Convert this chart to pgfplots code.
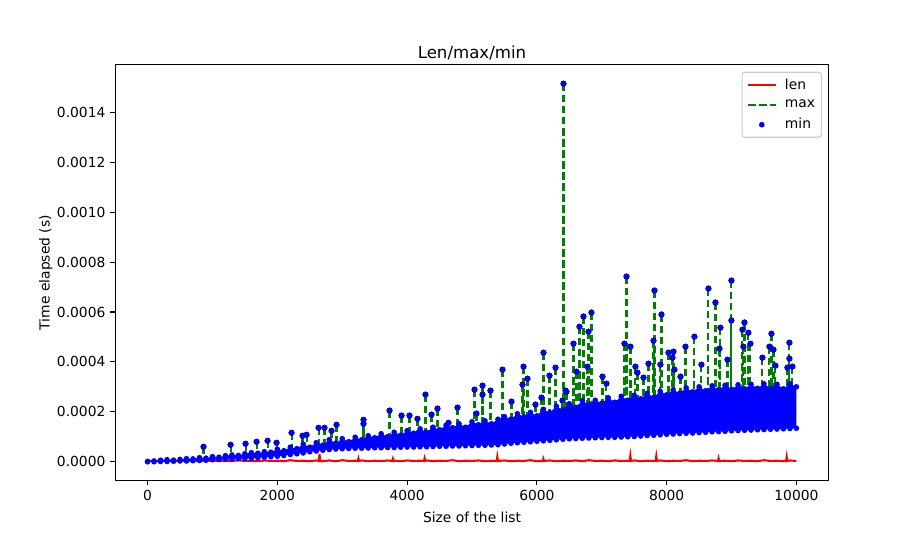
\documentclass[border=0pt]{standalone}
\usepackage{pgfplots}
\pgfplotsset{compat=1.18}
\usepackage{pgfplotstable}
\usepgfplotslibrary{fillbetween}
\usepackage{fontspec}
\setmainfont{DejaVu Sans}

\definecolor{mplred}{rgb}{1,0,0}
\definecolor{mplgreen}{rgb}{0,0.5,0}
\definecolor{mplblue}{rgb}{0,0,1}
\definecolor{legframe}{rgb}{0.8,0.8,0.8}

% dense band of the min/max timings: lower and upper edge
\pgfplotstableread{
x lo hi
0 0.000000 0.000001
100 0.000000 0.000003
200 0.000001 0.000006
300 0.000001 0.000008
400 0.000002 0.000006
500 0.000003 0.000009
600 0.000003 0.000012
700 0.000004 0.000011
800 0.000005 0.000016
900 0.000006 0.000014
1000 0.000008 0.000020
1100 0.000009 0.000018
1200 0.000010 0.000024
1300 0.000011 0.000027
1400 0.000012 0.000025
1500 0.000013 0.000032
1600 0.000014 0.000036
1700 0.000016 0.000034
1800 0.000018 0.000040
1900 0.000020 0.000038
2000 0.000022 0.000050
2100 0.000025 0.000044
2200 0.000029 0.000058
2300 0.000032 0.000052
2400 0.000035 0.000070
2500 0.000040 0.000058
2600 0.000043 0.000076
2700 0.000046 0.000066
2800 0.000049 0.000088
2900 0.000051 0.000074
3000 0.000052 0.000092
3100 0.000053 0.000080
3200 0.000054 0.000098
3300 0.000054 0.000088
3400 0.000055 0.000104
3500 0.000056 0.000096
3600 0.000056 0.000112
3700 0.000057 0.000100
3800 0.000057 0.000118
3900 0.000058 0.000106
4000 0.000059 0.000124
4100 0.000059 0.000114
4200 0.000060 0.000132
4300 0.000060 0.000118
4400 0.000061 0.000138
4500 0.000062 0.000128
4600 0.000062 0.000146
4700 0.000063 0.000136
4800 0.000063 0.000152
4900 0.000064 0.000138
5000 0.000065 0.000160
5100 0.000066 0.000148
5200 0.000066 0.000164
5300 0.000067 0.000152
5400 0.000068 0.000170
5500 0.000071 0.000180
5600 0.000074 0.000170
5700 0.000076 0.000192
5800 0.000078 0.000180
5900 0.000080 0.000198
6000 0.000082 0.000184
6100 0.000084 0.000210
6200 0.000086 0.000196
6300 0.000088 0.000222
6400 0.000090 0.000208
6500 0.000092 0.000232
6600 0.000093 0.000218
6700 0.000094 0.000244
6800 0.000095 0.000228
6900 0.000096 0.000246
7000 0.000097 0.000234
7100 0.000098 0.000256
7200 0.000098 0.000238
7300 0.000099 0.000262
7400 0.000100 0.000246
7500 0.000101 0.000266
7600 0.000103 0.000252
7700 0.000105 0.000274
7800 0.000106 0.000258
7900 0.000108 0.000282
8000 0.000110 0.000268
8100 0.000111 0.000288
8200 0.000113 0.000274
8300 0.000114 0.000296
8400 0.000115 0.000280
8500 0.000117 0.000300
8600 0.000118 0.000284
8700 0.000120 0.000304
8800 0.000121 0.000288
8900 0.000122 0.000306
9000 0.000124 0.000290
9100 0.000125 0.000308
9200 0.000126 0.000292
9300 0.000127 0.000310
9400 0.000128 0.000294
9500 0.000129 0.000312
9600 0.000130 0.000294
9700 0.000131 0.000310
9800 0.000132 0.000292
9900 0.000133 0.000312
9999 0.000134 0.000300
}\band

% outliers above the band (y) and where their spike starts (b)
\pgfplotstableread{
x y b
862 0.000060 0.000010
1279 0.000068 0.000018
1510 0.000072 0.000022
1680 0.000080 0.000025
1849 0.000084 0.000029
1988 0.000076 0.000034
2219 0.000116 0.000040
2388 0.000104 0.000048
2450 0.000108 0.000049
2635 0.000136 0.000057
2727 0.000136 0.000058
2835 0.000124 0.000065
2912 0.000148 0.000065
3328 0.000168 0.000075
3328 0.000152 0.000075
3729 0.000205 0.000080
3914 0.000185 0.000086
4037 0.000185 0.000086
4160 0.000172 0.000090
4283 0.000269 0.000090
4376 0.000189 0.000095
4468 0.000213 0.000097
4638 0.000156 0.000100
4777 0.000217 0.000103
5039 0.000289 0.000107
5069 0.000193 0.000108
5162 0.000305 0.000110
5162 0.000269 0.000110
5285 0.000285 0.000112
5470 0.000369 0.000120
5609 0.000241 0.000126
5778 0.000309 0.000130
5794 0.000381 0.000130
5855 0.000333 0.000133
5978 0.000229 0.000135
6071 0.000257 0.000140
6102 0.000437 0.000140
6194 0.000345 0.000145
6287 0.000377 0.000148
6394 0.000245 0.000152
6410 0.001515 0.000152
6441 0.000285 0.000155
6456 0.000280 0.000155
6564 0.000473 0.000160
6610 0.000361 0.000160
6656 0.000541 0.000162
6718 0.000582 0.000165
6780 0.000381 0.000165
6795 0.000521 0.000165
6841 0.000598 0.000166
7011 0.000341 0.000170
7072 0.000313 0.000170
7350 0.000473 0.000175
7381 0.000742 0.000175
7442 0.000461 0.000176
7519 0.000381 0.000178
7550 0.000357 0.000178
7643 0.000337 0.000180
7720 0.000393 0.000182
7797 0.000485 0.000184
7812 0.000686 0.000184
7904 0.000389 0.000186
7920 0.000590 0.000186
8028 0.000437 0.000190
8090 0.000417 0.000190
8105 0.000441 0.000190
8120 0.000369 0.000190
8213 0.000341 0.000192
8290 0.000461 0.000194
8428 0.000501 0.000196
8536 0.000389 0.000200
8644 0.000694 0.000202
8752 0.000638 0.000204
8814 0.000453 0.000206
8829 0.000537 0.000206
8937 0.000409 0.000208
8998 0.000726 0.000208
8998 0.000566 0.000208
9168 0.000529 0.000210
9183 0.000461 0.000210
9199 0.000558 0.000210
9260 0.000517 0.000212
9291 0.000473 0.000212
9476 0.000417 0.000214
9584 0.000461 0.000216
9615 0.000513 0.000216
9646 0.000449 0.000216
9676 0.000385 0.000216
9861 0.000377 0.000218
9892 0.000477 0.000218
9892 0.000413 0.000218
9938 0.000381 0.000218
}\spikes

% len() timings
\pgfplotstableread{
x y
0 0.000002
100 0.000004
200 0.000002
300 0.000005
400 0.000003
500 0.000002
600 0.000005
700 0.000003
800 0.000004
900 0.000002
1000 0.000005
1100 0.000003
1200 0.000004
1300 0.000002
1400 0.000006
1500 0.000003
1600 0.000004
1700 0.000002
1800 0.000005
1900 0.000003
2000 0.000004
2100 0.000002
2200 0.000006
2300 0.000003
2400 0.000004
2500 0.000002
2600 0.000005
2640 0.000003
2650 0.000030
2660 0.000003
2700 0.000002
2800 0.000005
2900 0.000002
3000 0.000006
3100 0.000003
3200 0.000004
3240 0.000003
3250 0.000013
3260 0.000003
3300 0.000005
3400 0.000002
3500 0.000004
3600 0.000002
3700 0.000005
3770 0.000003
3780 0.000012
3790 0.000003
3800 0.000004
3900 0.000002
4000 0.000005
4100 0.000003
4200 0.000004
4260 0.000003
4270 0.000014
4280 0.000003
4300 0.000005
4400 0.000002
4500 0.000004
4600 0.000003
4700 0.000006
4800 0.000002
4900 0.000004
5000 0.000003
5100 0.000005
5200 0.000002
5300 0.000004
5380 0.000003
5390 0.000020
5400 0.000003
5500 0.000005
5600 0.000002
5700 0.000004
5800 0.000003
5900 0.000006
6000 0.000002
6090 0.000003
6100 0.000012
6110 0.000003
6200 0.000005
6300 0.000002
6400 0.000004
6500 0.000003
6600 0.000005
6700 0.000002
6800 0.000006
6900 0.000003
7000 0.000004
7100 0.000002
7200 0.000005
7300 0.000003
7400 0.000004
7430 0.000003
7440 0.000024
7450 0.000003
7500 0.000005
7600 0.000002
7700 0.000004
7800 0.000003
7830 0.000003
7840 0.000022
7850 0.000003
7900 0.000005
8000 0.000002
8100 0.000004
8200 0.000003
8300 0.000006
8400 0.000002
8500 0.000004
8600 0.000003
8700 0.000005
8790 0.000003
8800 0.000014
8810 0.000003
8900 0.000004
9000 0.000002
9100 0.000005
9200 0.000003
9300 0.000004
9400 0.000002
9500 0.000006
9600 0.000003
9700 0.000004
9800 0.000002
9840 0.000003
9850 0.000020
9860 0.000003
9900 0.000005
9999 0.000003
}\lendata

\begin{document}
\begin{tikzpicture}
\begin{axis}[
    set layers,
    at={(82.89bp,42.77bp)}, anchor=south west,
    width=513.9bp, height=299.4bp, scale only axis,
    xmin=-500, xmax=10500,
    ymin=-0.0000757, ymax=0.0015907,
    xtick={0,2000,4000,6000,8000,10000},
    ytick={0,0.0002,0.0004,0.0006,0.0008,0.0010,0.0012,0.0014},
    scaled x ticks=false, scaled y ticks=false,
    xticklabel style={/pgf/number format/1000 sep={}},
    yticklabel style={/pgf/number format/.cd, fixed, fixed zerofill, precision=4},
    /pgf/number format/assume math mode=true,
    tick label style={font=\fontsize{10}{12}\selectfont},
    tick align=outside, major tick length=3.5bp,
    xtick pos=bottom, ytick pos=left,
    tick style={line width=0.8bp, black},
    axis line style={line width=0.8bp},
    xlabel={Size of the list}, ylabel={Time elapsed (s)},
    label style={font=\fontsize{10}{12}\selectfont},
    xlabel style={yshift=-1bp},
    ylabel style={yshift=-3.6bp},
    title={Len/max/min},
    title style={font=\fontsize{12}{14}\selectfont, yshift=-6bp},
    legend image code/.code={\draw[mark repeat=2,mark phase=2] plot coordinates {(0cm,0cm) (0.35cm,0cm) (0.7cm,0cm)};},
    legend style={at={(1,1)}, anchor=north east, xshift=-5bp, yshift=-5bp,
        draw=legframe, rounded corners=2bp, font=\fontsize{10}{12}\selectfont,
        inner xsep=3.5bp, inner ysep=3.5bp, row sep=4.3bp, line width=0.8bp,
        nodes={inner sep=1bp},
        /tikz/every odd column/.append style={column sep=5bp}},
    legend cell align=left,
]
\addplot[mplred, line width=1.5bp, on layer=axis background] table[x=x, y=y] {\lendata};
\addlegendentry{len}
\addlegendimage{mplgreen, line width=1.5bp, dash pattern=on 5.55bp off 2.4bp}
\addlegendentry{max}
\addplot[forget plot, only marks, mark=none, on layer=axis background,
    error bars/.cd, y dir=minus, y explicit, error mark=none,
    error bar style={line width=1.5bp, color=mplgreen, dash pattern=on 5.55bp off 2.4bp}]
    table[x=x, y=y, y error expr=\thisrow{y}-\thisrow{b}] {\spikes};
\addplot[forget plot, draw=none, name path=lo] table[x=x, y=lo] {\band};
\addplot[forget plot, draw=none, name path=hi] table[x=x, y=hi] {\band};
\addplot[forget plot, fill=mplblue, draw=none] fill between[of=lo and hi];
\addplot[only marks, mark=*, mark size=1.5bp, mplblue, mark options={line width=1bp}] table[x=x, y=y] {\spikes};
\addlegendentry{min}
\addplot[forget plot, only marks, mark=*, mark size=1.5bp, mplblue, mark options={line width=1bp}] table[x=x, y=lo] {\band};
\addplot[forget plot, only marks, mark=*, mark size=1.5bp, mplblue, mark options={line width=1bp}] table[x=x, y=hi] {\band};
\end{axis}
\pgfresetboundingbox
\path[use as bounding box] (0,0) rectangle (663.12bp,388.8bp);
\end{tikzpicture}
\end{document}
